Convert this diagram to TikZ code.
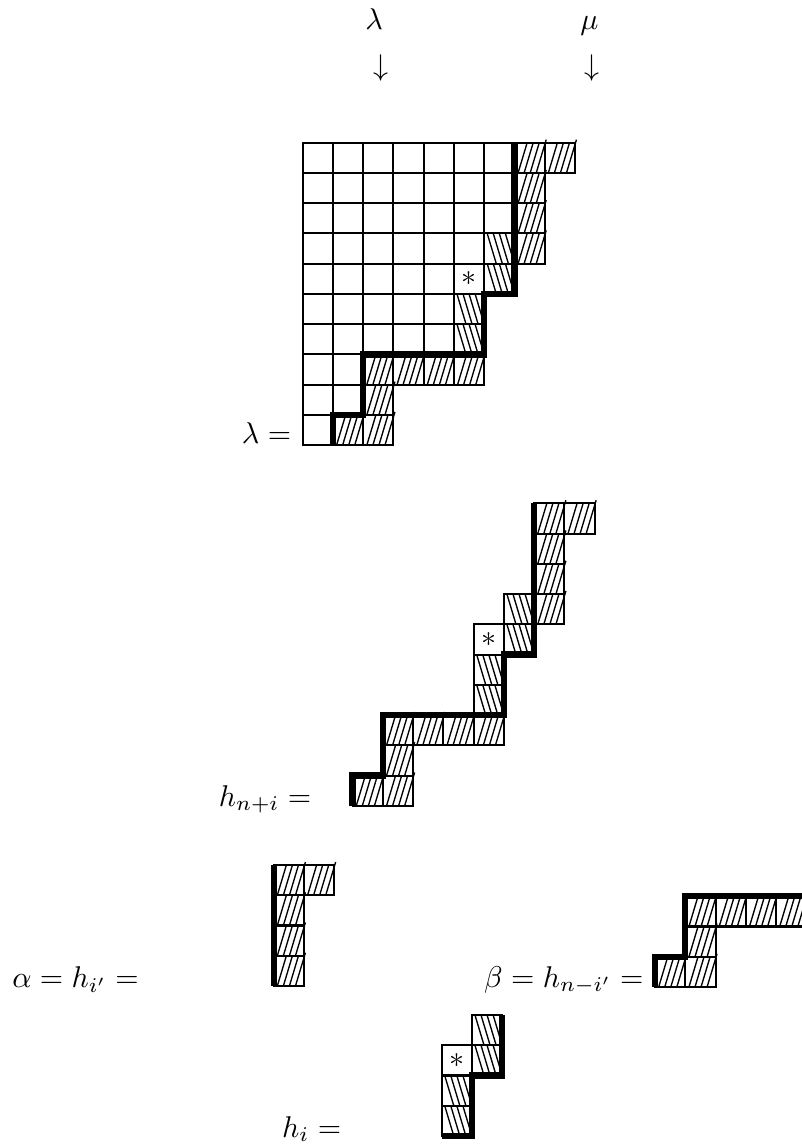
\documentclass[tikz,border=0pt]{standalone}
\usepackage{amsmath,amssymb}
\usepackage{tikz}

% cells of the border strip, as column/row of the big diagram
\newcommand{\outercells}{7/0,8/0,7/1,7/2,7/3,2/7,3/7,4/7,5/7,2/8,1/9,2/9}
\newcommand{\innercells}{6/3,6/4,5/5,5/6}
\newcommand{\necell}[2]{%
  \foreach \k in {0,1,2} \draw[hatch] (#1+0.12+0.2*\k,#2+1) -- ++(0.3,-1);
  \draw[hatch] (#1+0.72,#2+1) -- ++(0.33,-1.1);
  \draw[cell] (#1,#2) rectangle ++(1,1);}
\newcommand{\nwcell}[2]{%
  \foreach \k in {0,...,3} \draw[hatch] (#1+0.1+0.2*\k,#2) -- ++(0.3,1);
  \draw[cell] (#1,#2) rectangle ++(1,1);}

\begin{document}
\begin{tikzpicture}[
    x=10.083pt, y=-10.083pt,
    cell/.style={draw, line width=0.7pt},
    hatch/.style={line width=0.45pt},
    rim/.style={line width=2.1pt, line join=miter},
    lbl/.style={inner sep=0pt, anchor=base east}
]
\useasboundingbox (0,0) rectangle (26.512,37.818);

% Diagram lambda with the strip
\begin{scope}[shift={(10.006,4.717)}]
  \foreach \j/\len in {0/7,1/7,2/7,3/6,4/5,5/5,6/5,7/2,8/2,9/1}
    \foreach \i in {1,...,\len} \draw[cell] (\i-1,\j) rectangle ++(1,1);
  \draw[cell] (5,4) rectangle ++(1,1);
  \node (starA) at (5.5,4.5) {$*$};
  \foreach \i/\j in \outercells {\necell{\i}{\j}}
  \foreach \i/\j in \innercells {\nwcell{\i}{\j}}
  \draw[rim] (7,0) -- (7,5) -- (6,5) -- (6,7) -- (2,7) -- (2,9) -- (1,9) -- (1,10);
\end{scope}

% The strip alone
\begin{scope}[shift={(10.657,16.638)}]
  \draw[cell] (5,4) rectangle ++(1,1);
  \node (starB) at (5.5,4.5) {$*$};
  \foreach \i/\j in \outercells {\necell{\i}{\j}}
  \foreach \i/\j in \innercells {\nwcell{\i}{\j}}
  \draw[rim] (7,0) -- (7,5) -- (6,5) -- (6,7) -- (2,7) -- (2,9) -- (1,9) -- (1,10);
\end{scope}

% alpha
\begin{scope}[shift={(2.047,28.595)}]
  \foreach \i/\j in {7/0,8/0,7/1,7/2,7/3} {\necell{\i}{\j}}
  \draw[rim] (7,0) -- (7,4);
\end{scope}

% beta
\begin{scope}[shift={(20.654,22.629)}]
  \foreach \i/\j in {2/7,3/7,4/7,5/7,2/8,1/9,2/9} {\necell{\i}{\j}}
  \draw[rim] (6,7) -- (2,7) -- (2,9) -- (1,9) -- (1,10);
\end{scope}

% h_i
\begin{scope}[shift={(9.601,30.553)}]
  \draw[cell] (5,4) rectangle ++(1,1);
  \node (starC) at (5.5,4.5) {$*$};
  \foreach \i/\j in \innercells {\nwcell{\i}{\j}}
  \draw[rim] (7,3) -- (7,5) -- (6,5) -- (6,7) -- (5,7);
\end{scope}

% Labels
\node[anchor=base] (lamtop) at (12.364,0.992) {$\lambda$};
\node[anchor=base] (lamarrow) at (12.585,2.512) {$\downarrow$};
\node[anchor=base] (mutop) at (19.481,0.992) {$\mu$};
\node[anchor=base] (muarrow) at (19.560,2.512) {$\downarrow$};
\node[lbl] (lameq) at (9.643,14.655) {$\lambda =$};
\node[lbl] (hnieq) at (10.304,26.645) {$h_{n+i} =$};
\node[lbl] (alphaeq) at (4.605,32.651) {$\alpha = h_{i'} =$};
\node[lbl] (betaeq) at (21.289,32.635) {$\beta = h_{n-i'} =$};
\node[lbl] (hieq) at (11.296,37.597) {$h_i =$};

\end{tikzpicture}
\end{document}
